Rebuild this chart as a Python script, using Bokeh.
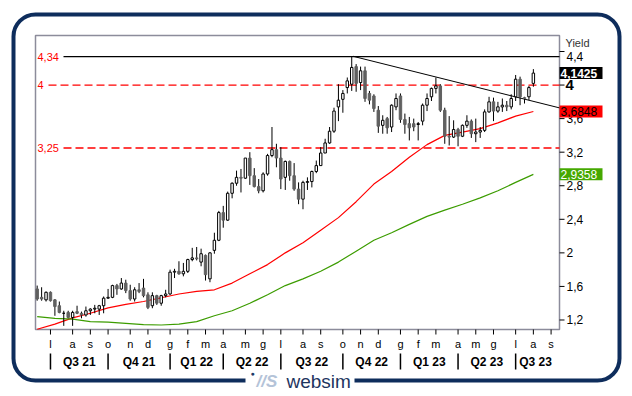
from bokeh.plotting import figure
from bokeh.models import Label, BoxAnnotation, Range1d, ColumnDataSource
from bokeh.core.properties import value
from bokeh.embed import file_html
from bokeh.resources import INLINE

# ---------------- data (weekly candles, index 0 = week of 7-11 Jun 2021) ----------------
opens = [1.57, 1.47, 1.44, 1.53, 1.44, 1.37, 1.28, 1.29, 1.23, 1.30,
         1.28, 1.26, 1.31, 1.33, 1.33, 1.37, 1.46, 1.47, 1.61, 1.57,
         1.64, 1.55, 1.45, 1.56, 1.58, 1.50, 1.37, 1.49, 1.40, 1.49,
         1.51, 1.77, 1.78, 1.75, 1.78, 1.92, 1.94, 1.89, 1.97, 1.69,
         2.03, 2.15, 2.48, 2.39, 2.71, 2.83, 2.90, 2.89, 3.13, 2.92,
         2.79, 2.74, 2.94, 3.16, 3.23, 3.13, 2.90, 3.09, 2.92, 2.76,
         2.64, 2.84, 2.85, 2.97, 3.04, 3.19, 3.31, 3.45, 3.74, 3.83,
         3.97, 4.01, 4.22, 4.03, 4.17, 3.90, 3.87, 3.70, 3.52, 3.60,
         3.50, 3.74, 3.87, 3.59, 3.54, 3.54, 3.53, 3.57, 3.76, 3.86,
         3.96, 3.99, 3.70, 3.39, 3.38, 3.47, 3.39, 3.52, 3.57, 3.42,
         3.44, 3.46, 3.68, 3.80, 3.69, 3.74, 3.76, 3.74, 3.86, 4.07,
         3.85, 3.86, 4.02]
highs = [1.61, 1.59, 1.54, 1.54, 1.45, 1.42, 1.31, 1.31, 1.31, 1.37,
         1.30, 1.36, 1.34, 1.38, 1.38, 1.48, 1.57, 1.62, 1.63, 1.70,
         1.68, 1.62, 1.59, 1.64, 1.69, 1.53, 1.53, 1.50, 1.50, 1.56,
         1.80, 1.81, 1.90, 1.88, 1.93, 2.06, 2.07, 2.05, 1.98, 2.01,
         2.24, 2.50, 2.56, 2.73, 2.84, 2.98, 3.00, 3.13, 3.20, 3.01,
         2.88, 2.96, 3.18, 3.50, 3.30, 3.26, 3.10, 3.10, 3.07, 2.84,
         2.86, 2.90, 2.98, 3.10, 3.26, 3.36, 3.50, 3.73, 4.01, 3.94,
         4.09, 4.34, 4.25, 4.22, 4.22, 3.93, 3.89, 3.75, 3.64, 3.62,
         3.77, 3.90, 3.90, 3.66, 3.62, 3.60, 3.56, 3.78, 3.90, 3.97,
         4.09, 4.01, 3.73, 3.63, 3.58, 3.49, 3.53, 3.64, 3.59, 3.60,
         3.50, 3.71, 3.86, 3.85, 3.80, 3.84, 3.81, 3.89, 4.12, 4.10,
         3.86, 3.99, 4.19]
lows = [1.43, 1.43, 1.42, 1.42, 1.25, 1.28, 1.13, 1.22, 1.13, 1.27,
        1.22, 1.24, 1.26, 1.28, 1.26, 1.28, 1.45, 1.46, 1.50, 1.56,
        1.52, 1.43, 1.42, 1.52, 1.47, 1.33, 1.34, 1.38, 1.37, 1.47,
        1.50, 1.70, 1.74, 1.72, 1.76, 1.90, 1.91, 1.84, 1.67, 1.65,
        1.99, 2.14, 2.30, 2.38, 2.65, 2.80, 2.72, 2.88, 2.81, 2.78,
        2.71, 2.72, 2.92, 3.14, 3.02, 2.76, 2.75, 2.86, 2.74, 2.58,
        2.52, 2.75, 2.78, 2.95, 3.04, 3.19, 3.30, 3.43, 3.57, 3.67,
        3.90, 3.93, 3.92, 3.94, 3.80, 3.77, 3.68, 3.43, 3.42, 3.42,
        3.44, 3.70, 3.55, 3.42, 3.34, 3.45, 3.34, 3.52, 3.69, 3.81,
        3.90, 3.68, 3.30, 3.28, 3.37, 3.27, 3.38, 3.49, 3.37, 3.32,
        3.37, 3.44, 3.67, 3.57, 3.67, 3.68, 3.69, 3.71, 3.81, 3.76,
        3.78, 3.82, 3.98]
closes = [1.45, 1.45, 1.53, 1.43, 1.36, 1.29, 1.28, 1.23, 1.29, 1.28,
          1.26, 1.31, 1.33, 1.34, 1.37, 1.46, 1.47, 1.61, 1.57, 1.64,
          1.55, 1.45, 1.56, 1.54, 1.49, 1.35, 1.49, 1.40, 1.49, 1.51,
          1.77, 1.78, 1.75, 1.78, 1.92, 1.94, 1.93, 1.99, 1.74, 2.00,
          2.15, 2.48, 2.39, 2.71, 2.83, 2.90, 2.89, 3.13, 2.92, 2.79,
          2.74, 2.94, 3.16, 3.23, 3.13, 2.88, 3.09, 2.92, 2.76, 2.64,
          2.84, 2.85, 2.97, 3.04, 3.19, 3.31, 3.45, 3.69, 3.82, 3.90,
          4.05, 4.21, 4.02, 4.17, 3.84, 3.82, 3.72, 3.51, 3.58, 3.49,
          3.76, 3.84, 3.59, 3.53, 3.49, 3.50, 3.54, 3.76, 3.84, 3.96,
          3.99, 3.70, 3.39, 3.38, 3.47, 3.39, 3.52, 3.57, 3.42, 3.44,
          3.46, 3.68, 3.80, 3.69, 3.74, 3.76, 3.74, 3.84, 4.07, 3.86,
          3.84, 3.97, 4.1425]

# moving averages (every 4 weeks)
ma_idx = [0, 4, 8, 12, 16, 20, 24, 28, 32, 36, 40, 44, 48, 52, 56,
          60, 64, 68, 72, 76, 80, 84, 88, 92, 96, 100, 104, 108, 112]
ma_red = [1.09, 1.15, 1.225, 1.28, 1.345, 1.385, 1.42, 1.465, 1.51, 1.54,
          1.56, 1.64, 1.75, 1.86, 2.00, 2.12, 2.27, 2.42, 2.61, 2.82,
          2.97, 3.14, 3.29, 3.40, 3.44, 3.48, 3.55, 3.63, 3.6848]
ma_green = [1.24, 1.22, 1.21, 1.18, 1.175, 1.16, 1.145, 1.14, 1.15, 1.18,
            1.25, 1.31, 1.40, 1.50, 1.61, 1.69, 1.78, 1.89, 2.02, 2.15,
            2.24, 2.34, 2.435, 2.51, 2.58, 2.655, 2.74, 2.84, 2.9358]

month_ticks = [3, 8, 12, 16, 21, 25, 30, 34, 38, 42, 47, 51, 55, 60, 64,
               69, 73, 77, 82, 86, 90, 95, 99, 103, 108, 112, 116]
month_labels = ["l", "a", "s", "o", "n", "d", "g", "f", "m", "a", "m", "g", "l", "a", "s",
                "o", "n", "d", "g", "f", "m", "a", "m", "g", "l", "a", "s"]
quarter_bounds = [3, 16, 30, 42, 55, 69, 82, 95, 108]
quarter_centers = [9.5, 23, 36, 48.5, 62, 75.5, 88.5, 101.5, 112.5]
quarter_labels = ["Q3 21", "Q4 21", "Q1 22", "Q2 22", "Q3 22", "Q4 22", "Q1 23", "Q2 23", "Q3 23"]

y_ticks = [1.2, 1.6, 2.0, 2.4, 2.8, 3.2, 3.6, 4.0, 4.4]
y_tick_labels = ["1,2", "1,6", "2", "2,4", "2,8", "3,2", "3,6", "4", "4,4"]

level_values = [4.34, 4.0, 3.25]
level_labels = ["4,34", "4", "3,25"]
trend_x = [71.3, 117.9]
trend_y = [4.343, 3.728]

tag_values = [4.1425, 3.6848, 2.9358]
tag_texts = ["4,1425", "3,6848", "2,9358"]
tag_fills = ["black", "#ff0000", "#45a800"]
tag_text_colors = ["white", "black", "white"]
tag_styles = ["bold", "normal", "normal"]

# ---------------- geometry: inner plot area in page pixels ----------------
X0, X1 = -0.38, 117.9          # data x at left / right edge of the plot area
Y0, Y1 = 1.0866, 4.5907        # data y at bottom / top edge of the plot area
FL, FT, FW, FH = 35, 35, 524, 294
SX = (X1 - X0) / FW
SY = (Y1 - Y0) / FH
W, H = 632, 396

def px2x(px):
    return X0 + (px - FL) * SX

def py2y(py):
    return Y1 - (py - FT) * SY

FONT = value("Liberation Sans")

p = figure(width=W, height=H, output_backend="svg", toolbar_location=None,
           x_range=Range1d(px2x(0), px2x(W)), y_range=Range1d(py2y(H), py2y(0)),
           x_axis_location=None, y_axis_location=None,
           min_border=0, min_border_left=0, min_border_right=0,
           min_border_top=0, min_border_bottom=0)
p.outline_line_color = None
p.background_fill_color = "white"
p.border_fill_color = "white"
p.grid.grid_line_color = None

# plot area box
p.quad(left=[X0], right=[X1], bottom=[Y0], top=[Y1], fill_color=None,
       line_color="#8c8c9b", line_width=1.5)

# right y axis (ticks + labels); the top label sits a little below its tick
n_y = len(y_ticks)
p.segment(x0=[X1] * n_y, y0=y_ticks, x1=[px2x(564)] * n_y, y1=y_ticks,
          line_color="black", line_width=1)
p.text(x=[px2x(566)] * (n_y - 2), y=y_ticks[:-2], text=y_tick_labels[:-2], text_font=FONT,
       text_font_size="12px", text_color="black", text_baseline="middle", text_align="left")
p.text(x=[px2x(566)], y=[y_ticks[-1]], y_offset=5, text=[y_tick_labels[-1]], text_font=FONT,
       text_font_size="12px", text_color="black", text_baseline="middle", text_align="left")
p.text(x=[px2x(565)], y=[y_ticks[-2]], text=[y_tick_labels[-2]], text_font=FONT,
       text_font_size="15px", text_font_style="bold", text_color="black",
       text_baseline="middle", text_align="left")
p.text(x=[px2x(565)], y=[py2y(42)], text=["Yield"], text_font=FONT, text_font_size="11px",
       text_color="#333333", text_baseline="middle", text_align="left")

# bottom month axis
n_m = len(month_ticks)
p.segment(x0=month_ticks, y0=[Y0] * n_m, x1=month_ticks, y1=[py2y(334)] * n_m,
          line_color="black", line_width=1)
p.text(x=month_ticks, y=[py2y(337)] * n_m, text=month_labels, text_font=FONT,
       text_font_size="11px", text_color="black", text_baseline="top", text_align="center")

# quarter row
n_q = len(quarter_bounds)
p.segment(x0=quarter_bounds, y0=[py2y(353)] * n_q, x1=quarter_bounds, y1=[py2y(369)] * n_q,
          line_color="black", line_width=1.5)
p.text(x=quarter_centers, y=[py2y(361)] * len(quarter_centers), text=quarter_labels,
       text_font=FONT, text_font_size="12px", text_font_style="bold", text_color="black",
       text_baseline="middle", text_align="center")

# level lines
p.segment(x0=[px2x(63)], y0=[level_values[0]], x1=[X1], y1=[level_values[0]],
          line_color="black", line_width=1.3)
p.segment(x0=[px2x(48), px2x(63)], y0=level_values[1:], x1=[X1, X1], y1=level_values[1:],
          line_color="#ff0000", line_width=1.3, line_dash="8 4")
p.text(x=[px2x(37)] * 3, y=level_values, text=level_labels, text_font=FONT,
       text_font_size="11px", text_color="#ff0000", text_baseline="middle", text_align="left")

# moving averages
p.line(ma_idx, ma_red, line_color="#ff0000", line_width=1.2)
p.line(ma_idx, ma_green, line_color="#3c9c00", line_width=1.2)

# trend line
p.line(trend_x, trend_y, line_color="black", line_width=1)

# candles
idx = list(range(len(opens)))
tops = [max(o, c) for o, c in zip(opens, closes)]
bots = [min(o, c) for o, c in zip(opens, closes)]
fills = ["white" if c >= o else "#606060" for o, c in zip(opens, closes)]
edges = ["black" if c >= o else "#606060" for o, c in zip(opens, closes)]
src = ColumnDataSource(dict(x=idx, h=highs, l=lows, t=tops, b=bots, f=fills, e=edges))
p.segment(x0="x", y0="l", x1="x", y1="h", source=src, line_color="black", line_width=1)
p.vbar(x="x", width=0.55, top="t", bottom="b", source=src, fill_color="f", line_color="e",
       line_width=1)

# right value tags
n_t = len(tag_values)
p.rect(x=[px2x(580.5)] * n_t, y=tag_values, width=43 * SX, height=12 * SY,
       fill_color=tag_fills, line_color=None)
tsrc = ColumnDataSource(dict(x=[px2x(560)] * n_t, y=tag_values, t=tag_texts,
                             c=tag_text_colors, s=tag_styles))
p.text(x="x", y="y", text="t", text_color="c", text_font_style="s", source=tsrc,
       text_font=FONT, text_font_size="12px", text_baseline="middle", text_align="left")

# outer rounded frame
p.add_layout(BoxAnnotation(left=px2x(13), right=px2x(619), top=py2y(14), bottom=py2y(380),
                           fill_alpha=0, line_color="#0e2d5c", line_width=4, line_alpha=1,
                           border_radius=22, level="overlay"))
# websim logo
p.add_layout(BoxAnnotation(left=px2x(245), right=px2x(354), top=py2y(371), bottom=py2y(390),
                           fill_color="white", fill_alpha=1, line_alpha=0, level="overlay"))
p.add_layout(Label(x=px2x(250), y=py2y(373), text="\u25cf", text_color="#1e3a66",
                   text_font="Liberation Sans", text_font_size="7px", text_baseline="middle",
                   text_align="left", level="overlay"))
p.add_layout(Label(x=px2x(256), y=py2y(381), text="//S", text_color="#b4c3d8",
                   text_font="Liberation Sans", text_font_size="17px",
                   text_font_style="bold italic",
                   text_baseline="middle", text_align="left", level="overlay"))
p.add_layout(Label(x=px2x(286), y=py2y(381), text="websim", text_color="#1e3560",
                   text_font="Liberation Sans", text_font_size="19px",
                   text_baseline="middle", text_align="left", level="overlay"))

open("out.html", "w").write(file_html(p, INLINE))
